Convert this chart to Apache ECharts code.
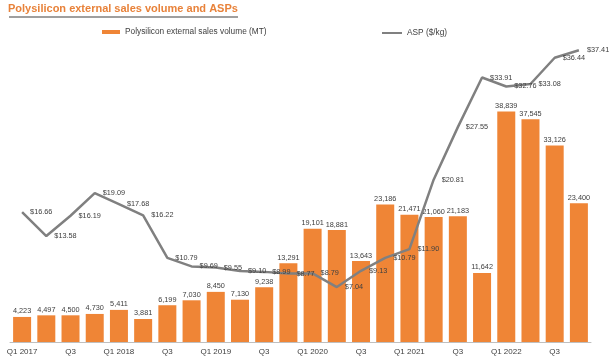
<!DOCTYPE html>
<html>
<head>
<meta charset="utf-8">
<script src="https://cdn.jsdelivr.net/npm/echarts@6/dist/echarts.min.js"></script>
<style>
html,body{margin:0;padding:0;background:#fff;}
#chart{width:613px;height:359px;}
</style>
</head>
<body>
<div id="chart"></div>
<script>
var categories = ['Q1 2017','Q2 2017','Q3 2017','Q4 2017','Q1 2018','Q2 2018','Q3 2018','Q4 2018',
  'Q1 2019','Q2 2019','Q3 2019','Q4 2019','Q1 2020','Q2 2020','Q3 2020','Q4 2020',
  'Q1 2021','Q2 2021','Q3 2021','Q4 2021','Q1 2022','Q2 2022','Q3 2022','Q4 2022'];
var tickLabels = ['Q1 2017','','Q3','','Q1 2018','','Q3','',
  'Q1 2019','','Q3','','Q1 2020','','Q3','',
  'Q1 2021','','Q3','','Q1 2022','','Q3',''];
var volume = [4223,4497,4500,4730,5411,3881,6199,7030,8450,7130,9238,13291,
  19101,18881,13643,23186,21471,21060,21183,11642,38839,37545,33126,23400];
var asp = [16.66,13.58,16.19,19.09,17.68,16.22,10.79,9.69,9.55,9.10,8.99,8.77,
  8.79,7.04,9.13,10.79,11.90,20.81,27.55,33.91,32.76,33.08,36.44,37.41];
var seriesNames = ['Polysilicon external sales volume (MT)','ASP ($/kg)'];
var titleText = 'Polysilicon external sales volume and ASPs';

var FONT = 'Liberation Sans, Arial, sans-serif';
var chart = echarts.init(document.getElementById('chart'), null, {renderer:'canvas'});
chart.setOption({
  animation:false,
  backgroundColor:'#ffffff',
  textStyle:{fontFamily:FONT},
  title:{text:titleText,left:8,top:3,padding:0,
    textStyle:{fontSize:11,fontWeight:'bold',color:'#E8823A',fontFamily:FONT}},
  graphic:[{type:'line',shape:{x1:9,y1:17,x2:238,y2:17},style:{stroke:'#7f7f7f',lineWidth:1.5},silent:true}],
  legend:[
    {data:[seriesNames[0]],left:102,top:28,padding:0,itemWidth:18,itemHeight:4,icon:'rect',
      textStyle:{fontSize:8.3,color:'#404040',fontFamily:FONT}},
    {data:[{name:seriesNames[1],icon:'rect'}],left:382,top:29,padding:0,itemWidth:20,itemHeight:2,
      textStyle:{fontSize:8.3,color:'#404040',fontFamily:FONT}}
  ],
  grid:{left:10,right:22,top:30,bottom:17,containLabel:false},
  xAxis:{type:'category',data:categories,
    axisLine:{show:true,lineStyle:{color:'#BFBFBF',width:1}},
    axisTick:{show:false},
    axisLabel:{interval:0,margin:6,fontSize:8,color:'#404040',fontFamily:FONT,
      formatter:function(v,i){return tickLabels[i];}}},
  yAxis:[
    {type:'value',min:0,max:52600,show:false,splitLine:{show:false}},
    {type:'value',min:0,max:40,show:false,splitLine:{show:false}}
  ],
  series:[
    {name:seriesNames[0],type:'bar',yAxisIndex:0,data:volume,barWidth:18,
      itemStyle:{color:'#EF8536'},
      label:{show:true,position:'top',distance:2,fontSize:7.3,color:'#404040',fontFamily:FONT,
        formatter:function(p){return p.value.toLocaleString('en-US');}}},
    {name:seriesNames[1],type:'line',yAxisIndex:1,data:asp,symbol:'circle',symbolSize:0.01,showSymbol:true,
      lineStyle:{color:'#808080',width:2.5},itemStyle:{color:'#808080'},
      label:{show:true,position:'right',distance:8,fontSize:7.3,color:'#404040',fontFamily:FONT,
        formatter:function(p){return '$'+p.value.toFixed(2);}}}
  ]
});
</script>
</body>
</html>
